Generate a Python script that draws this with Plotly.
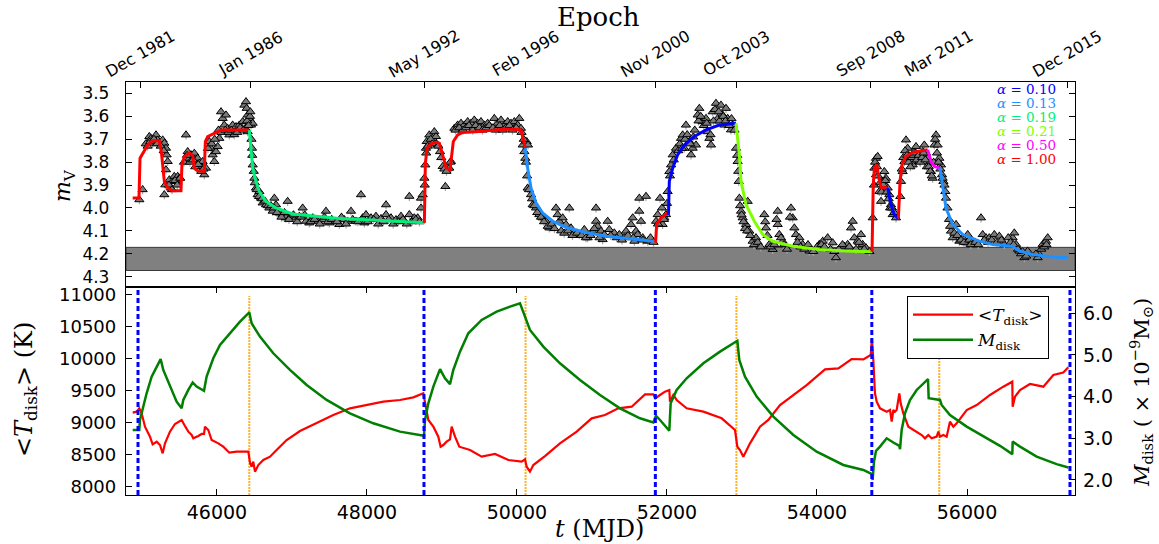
import plotly.graph_objects as go

# ------------------------------------------------------------------ data
epoch_mjd = [44985, 46450, 48770, 50117, 51851, 52925, 54718, 55621, 57345]
epoch_labels = ["Dec 1981", "Jan 1986", "May 1992", "Feb 1996", "Nov 2000",
                "Oct 2003", "Sep 2008", "Mar 2011", "Dec 2015"]

mag_ticks = [3.5, 3.6, 3.7, 3.8, 3.9, 4.0, 4.1, 4.2, 4.3]
mjd_ticks = [46000, 48000, 50000, 52000, 54000, 56000]
temp_ticks = [8000, 8500, 9000, 9500, 10000, 10500, 11000]
mass_ticks = [2.0, 3.0, 4.0, 5.0, 6.0]

band_mag = [4.172, 4.273]   # grey band in the upper panel

obs_mjd = [
    44965, 45009, 45098, 45120, 45143, 45187, 45209, 45231, 45276, 45298, 45320, 45329, 45343, 45320,
    45311, 45298, 45365, 45387, 45409, 45431, 45454, 45476, 45498, 45587, 45609, 45631, 45654, 45698,
    45720, 45742, 45765, 45787, 45809, 45831, 45854, 45898, 45920, 45942, 45965, 45987, 46009, 46031,
    46054, 46076, 46120, 46098, 46142, 46165, 46209, 46254, 46298, 46343, 46365, 46387, 46396, 46409,
    46431, 46378, 46409, 46454, 46476, 46467, 46476, 46498, 46520, 46542, 46565, 46587, 46609, 46654,
    46698, 46743, 46765, 46787, 46831, 46876, 46920, 46942, 46987, 47053, 47098, 47142, 47187, 47231,
    47276, 47342, 47409, 47453, 47498, 47564, 47631, 47698, 47742, 47787, 47853, 47920, 47942, 47965,
    47987, 48054, 48120, 48187, 48254, 48254, 48320, 48387, 48454, 48498, 48565, 48565, 48631, 48676,
    48720, 48720, 48743, 48765, 48778, 48787, 48796, 48831, 48898, 48876, 48920, 48942, 48974, 49009,
    49045, 49076, 49098, 49120, 49165, 49209, 49254, 49298, 49342, 49387, 49431, 49476, 49520, 49565,
    49609, 49654, 49698, 49742, 49787, 49831, 49876, 49920, 49965, 50009, 50031, 50053, 50076, 50098,
    50111, 50129, 50147, 50142, 50187, 50209, 50254, 50298, 50342, 50387, 50431, 50520, 50542, 50565,
    50609, 50653, 50698, 50720, 50765, 50831, 50898, 50942, 51009, 51054, 51054, 51076, 51120, 51142,
    51165, 51209, 51231, 51298, 51365, 51431, 51454, 51520, 51543, 51587, 51565, 51609, 51631, 51631,
    51654, 51720, 51676, 51743, 51854, 51876, 51907, 51934, 51942, 51965, 51987, 52009, 52031, 52054,
    52076, 52120, 52187, 52209, 52231, 52253, 52298, 52320, 52342, 52387, 52409, 52431, 52476, 52520,
    52542, 52565, 52587, 52609, 52653, 52676, 52720, 52742, 52765, 52787, 52809, 52853, 52876, 52920,
    52942, 52956, 52965, 52987, 53009, 53054, 53076, 53098, 53142, 53187, 53298, 53320, 53365, 53409,
    53476, 53476, 53498, 53542, 53653, 53676, 53698, 53720, 53765, 53809, 53853, 53898, 54031, 54076,
    54142, 54209, 54253, 54320, 54365, 54409, 54454, 54476, 54498, 54543, 54587, 54609, 54654, 54743,
    54765, 54787, 54809, 54787, 54831, 54854, 54876, 54898, 54920, 54943, 54965, 54987, 55009, 55054,
    55120, 55142, 55165, 55187, 55209, 55231, 55254, 55276, 55298, 55320, 55342, 55365, 55409, 55431,
    55454, 55476, 55498, 55520, 55542, 55565, 55587, 55609, 55631, 55654, 55667, 55685, 55711, 55720,
    55787, 55809, 55854, 55898, 55943, 55987, 56009, 56076, 56187, 56209, 56254, 56298, 56365, 56431,
    56498, 56609, 56631, 56654, 56698, 56765, 56809, 56942, 56965, 57009, 57053, 57076,
]
obs_mag = [
    3.964, 3.920, 3.688, 3.696, 3.717, 3.681, 3.703, 3.717, 3.703, 3.717, 3.739, 3.768, 3.797, 3.833,
    3.899, 3.942, 3.877, 3.913, 3.884, 3.862, 3.884, 3.862, 3.870, 3.681, 3.754, 3.783, 3.768, 3.761,
    3.797, 3.783, 3.804, 3.819, 3.797, 3.855, 3.826, 3.710, 3.739, 3.768, 3.797, 3.754, 3.732, 3.696,
    3.580, 3.609, 3.594, 3.638, 3.652, 3.681, 3.638, 3.645, 3.638, 3.623, 3.551, 3.536, 3.565, 3.594,
    3.609, 3.652, 3.667, 3.638, 3.630, 3.739, 3.812, 3.870, 3.913, 3.942, 3.928, 3.957, 3.978, 3.986,
    4.000, 4.014, 3.957, 3.986, 4.022, 4.029, 4.043, 3.971, 4.036, 4.043, 4.036, 4.000, 4.058, 4.065,
    4.043, 4.058, 4.051, 4.014, 4.065, 4.058, 4.072, 4.051, 4.058, 4.014, 4.058, 3.942, 4.043, 4.065,
    4.029, 4.043, 4.036, 4.046, 3.986, 4.029, 4.043, 4.051, 4.036, 4.058, 3.949, 4.029, 4.043, 4.043,
    4.000, 3.957, 3.942, 3.870, 3.812, 3.739, 3.710, 3.681, 3.667, 3.696, 3.688, 3.725, 3.754, 3.819,
    3.906, 3.826, 3.826, 3.797, 3.652, 3.638, 3.630, 3.638, 3.623, 3.630, 3.616, 3.630, 3.623, 3.638,
    3.630, 3.652, 3.609, 3.630, 3.616, 3.638, 3.623, 3.630, 3.623, 3.638, 3.609, 3.652, 3.725, 3.754,
    3.783, 3.710, 3.725, 3.913, 3.942, 3.986, 4.000, 4.029, 4.043, 4.058, 4.087, 4.000, 4.029, 4.058,
    4.043, 4.072, 4.000, 4.087, 4.109, 4.116, 4.094, 4.130, 4.101, 4.000, 4.058, 4.080, 4.101, 4.138,
    4.116, 4.058, 4.094, 4.109, 4.116, 4.130, 4.101, 4.072, 4.043, 4.101, 4.145, 4.116, 3.957, 4.014,
    4.058, 3.949, 4.130, 4.145, 4.058, 4.029, 3.957, 4.000, 4.072, 4.043, 4.029, 3.928, 3.841, 3.812,
    3.768, 3.739, 3.696, 3.681, 3.739, 3.638, 3.710, 3.768, 3.739, 3.725, 3.594, 3.565, 3.623, 3.609,
    3.667, 3.696, 3.725, 3.580, 3.543, 3.609, 3.551, 3.594, 3.638, 3.565, 3.609, 3.659, 3.638, 3.739,
    3.797, 3.884, 3.957, 4.014, 4.043, 4.072, 3.971, 4.101, 4.145, 4.130, 4.029, 4.087, 4.159, 4.181,
    4.014, 4.072, 4.116, 4.145, 4.000, 4.043, 4.087, 4.116, 4.130, 4.159, 4.174, 4.188, 4.159, 4.145,
    4.130, 4.152, 4.217, 4.174, 4.167, 4.159, 4.087, 4.058, 4.130, 4.145, 4.116, 4.159, 4.174, 4.043,
    3.826, 3.783, 3.775, 3.855, 3.928, 3.971, 3.884, 3.841, 3.870, 3.913, 3.942, 3.986, 4.029, 4.043,
    3.884, 3.841, 3.797, 3.703, 3.739, 3.775, 3.790, 3.812, 3.754, 3.732, 3.775, 3.797, 3.754, 3.725,
    3.761, 3.783, 3.804, 3.841, 3.870, 3.725, 3.681, 3.725, 3.783, 3.812, 3.855, 3.884, 3.928, 3.957,
    4.101, 4.130, 4.072, 4.145, 4.130, 4.152, 4.116, 4.145, 4.043, 4.116, 4.130, 4.130, 4.116, 4.123,
    4.159, 4.130, 4.109, 4.159, 4.188, 4.217, 4.188, 4.217, 4.203, 4.159, 4.145, 4.130,
]
# further observations read in the densely sampled stretches, as (MJD, mag)
obs_more = [
    (45050, 3.72), (45075, 3.73), (45110, 3.71), (45160, 3.70), (45200, 3.72), (45250, 3.73),
    (45290, 3.75), (45360, 3.90), (45400, 3.92), (45440, 3.88), (45470, 3.90), (45510, 3.87),
    (45560, 3.80), (45600, 3.77), (45640, 3.80), (45680, 3.79), (45710, 3.82), (45750, 3.81),
    (45790, 3.84), (45820, 3.83), (45880, 3.74), (45930, 3.72), (45970, 3.70), (46020, 3.66),
    (46060, 3.67), (46110, 3.66), (46150, 3.67), (46190, 3.66), (46230, 3.68), (46270, 3.67),
    (46310, 3.65), (46350, 3.66), (46400, 3.62), (46420, 3.64), (46440, 3.60), (46445, 3.58),
    (46460, 3.70), (46470, 3.77), (46490, 3.84), (46505, 3.89), (46530, 3.92), (46560, 3.95),
    (46600, 3.96), (46640, 3.97), (46680, 3.99), (46720, 3.99), (46760, 4.00), (46800, 4.02),
    (46860, 4.04), (46900, 4.02), (46960, 4.05), (47020, 4.03), (47070, 4.06), (47120, 4.04),
    (47170, 4.03), (47250, 4.06), (47300, 4.05), (47370, 4.07), (47430, 4.04), (47480, 4.06),
    (47530, 4.05), (47600, 4.06), (47660, 4.04), (47720, 4.07), (47810, 4.05), (47880, 4.06),
    (48010, 4.06), (48090, 4.05), (48150, 4.07), (48220, 4.06), (48290, 4.05), (48350, 4.07),
    (48420, 4.06), (48480, 4.05), (48530, 4.07), (48600, 4.06), (48650, 4.05), (48700, 4.06),
    (48770, 3.90), (48790, 3.76), (48810, 3.73), (48850, 3.70), (48870, 3.72), (48950, 3.73),
    (48990, 3.78), (49030, 3.83), (49060, 3.84), (49110, 3.80), (49180, 3.66), (49230, 3.65),
    (49280, 3.66), (49320, 3.65), (49360, 3.64), (49410, 3.66), (49450, 3.64), (49500, 3.65),
    (49540, 3.66), (49590, 3.65), (49630, 3.64), (49680, 3.65), (49720, 3.66), (49770, 3.64),
    (49810, 3.66), (49850, 3.65), (49900, 3.64), (49940, 3.66), (49990, 3.65), (50060, 3.67),
    (50090, 3.70), (50120, 3.80), (50135, 3.86), (50160, 3.92), (50200, 3.96), (50230, 3.99),
    (50270, 4.02), (50320, 4.04), (50360, 4.06), (50410, 4.08), (50460, 4.07), (50500, 4.09),
    (50590, 4.10), (50630, 4.11), (50680, 4.10), (50740, 4.12), (50800, 4.11), (50860, 4.12),
    (50920, 4.13), (50980, 4.12), (51030, 4.09), (51100, 4.13), (51250, 4.12), (51330, 4.13),
    (51400, 4.14), (51480, 4.12), (51550, 4.13), (51680, 4.14), (51780, 4.13), (51820, 4.15),
    (51880, 4.07), (51960, 4.05), (52000, 3.98), (52040, 3.86), (52090, 3.79), (52150, 3.75),
    (52170, 3.72), (52200, 3.74), (52240, 3.70), (52270, 3.68), (52310, 3.72), (52350, 3.69),
    (52370, 3.66), (52420, 3.62), (52450, 3.60), (52490, 3.64), (52530, 3.63), (52580, 3.68),
    (52620, 3.62), (52640, 3.57), (52690, 3.58), (52700, 3.62), (52750, 3.60), (52780, 3.62),
    (52830, 3.64), (52860, 3.61), (52900, 3.66), (52935, 3.77), (52950, 3.84), (52975, 3.99),
    (52995, 4.03), (53020, 4.06), (53040, 4.09), (53070, 4.10), (53110, 4.12), (53160, 4.16),
    (53210, 4.15), (53250, 4.17), (53310, 4.06), (53340, 4.12), (53380, 4.17), (53430, 4.16),
    (53460, 4.05), (53520, 4.13), (53560, 4.16), (53600, 4.18), (53640, 4.04), (53740, 4.15),
    (53780, 4.17), (53830, 4.18), (53880, 4.16), (53950, 4.19), (54000, 4.17), (54060, 4.16),
    (54100, 4.17), (54180, 4.18), (54230, 4.19), (54290, 4.18), (54340, 4.16), (54430, 4.17),
    (54520, 4.18), (54560, 4.15), (54630, 4.18), (54700, 4.19), (54760, 3.90), (54775, 3.80),
    (54800, 3.82), (54815, 3.86), (54840, 3.89), (54860, 3.93), (54885, 3.90), (54910, 3.88),
    (54930, 3.93), (54955, 3.96), (54975, 4.00), (55000, 4.00), (55030, 4.02), (55110, 3.95),
    (55130, 3.83), (55150, 3.78), (55175, 3.75), (55200, 3.77), (55220, 3.80), (55245, 3.82),
    (55265, 3.78), (55290, 3.77), (55310, 3.76), (55330, 3.79), (55355, 3.77), (55380, 3.80),
    (55400, 3.78), (55420, 3.76), (55445, 3.79), (55465, 3.82), (55490, 3.82), (55510, 3.84),
    (55530, 3.86), (55555, 3.80), (55575, 3.70), (55600, 3.76), (55620, 3.80), (55645, 3.83),
    (55675, 3.87), (55700, 3.90), (55740, 4.00), (55760, 4.05), (55775, 4.08), (55830, 4.11),
    (55870, 4.12), (55920, 4.14), (55960, 4.15), (56030, 4.14), (56050, 4.16), (56110, 4.15),
    (56150, 4.16), (56230, 4.14), (56280, 4.15), (56330, 4.14), (56400, 4.15), (56460, 4.14),
    (56550, 4.13), (56580, 4.15), (56620, 4.16), (56680, 4.18), (56720, 4.20), (56740, 4.19),
    (56790, 4.21), (56920, 4.20), (56990, 4.18), (57030, 4.17), (57060, 4.16),
]
obs_err = 0.02

# model light-curve segments (viscosity parameter alpha of each segment)
seg1_t = [44876, 44960, 44974, 45076, 45142, 45231, 45260, 45280, 45298, 45343, 45409, 45520,
          45533, 45565, 45631, 45676, 45698, 45742, 45831, 45845, 45876, 45965, 46054, 46431]
seg1_m = [3.956, 3.956, 3.783, 3.725, 3.707, 3.707, 3.760, 3.820, 3.884, 3.913, 3.925, 3.925,
          3.810, 3.775, 3.760, 3.770, 3.826, 3.838, 3.840, 3.710, 3.688, 3.674, 3.660, 3.660]
seg2_t = [46431, 46454, 46476, 46520, 46565, 46654, 46787, 47009, 47276, 47631, 47987, 48765]
seg2_m = [3.660, 3.739, 3.826, 3.884, 3.928, 3.971, 4.000, 4.026, 4.036, 4.046, 4.051, 4.065]
seg3_t = [48765, 48778, 48800, 48854, 48920, 48965, 49009, 49054, 49107, 49125, 49151, 49209,
          49276, 49454, 49720, 49854, 50054, 50111]
seg3_m = [4.065, 3.810, 3.739, 3.720, 3.713, 3.717, 3.768, 3.823, 3.833, 3.783, 3.710, 3.681,
          3.670, 3.667, 3.659, 3.655, 3.659, 3.739]
seg4_t = [50111, 50142, 50187, 50254, 50342, 50476, 50653, 50876, 51187, 51831]
seg4_m = [3.739, 3.826, 3.913, 3.978, 4.022, 4.058, 4.084, 4.104, 4.123, 4.145]
seg5_t = [51831, 51849, 51862, 51920, 52009]
seg5_m = [4.145, 4.145, 4.072, 4.043, 4.022]
seg6_t = [52009, 52020, 52031, 52076, 52142, 52231, 52365, 52520, 52698, 52920]
seg6_m = [4.022, 4.029, 3.884, 3.826, 3.768, 3.725, 3.688, 3.659, 3.638, 3.630]
seg7_t = [52920, 52965, 52987, 53054, 53165, 53276, 53409, 53676, 54031, 54387, 54734]
seg7_m = [3.630, 3.768, 3.884, 3.986, 4.058, 4.116, 4.145, 4.167, 4.181, 4.188, 4.191]
seg8_t = [54734, 54750, 54765, 54796, 54823, 54854, 54943]
seg8_m = [4.191, 3.900, 3.826, 3.810, 3.862, 3.910, 3.913]
seg9_t = [54943, 54987, 55031, 55085]
seg9_m = [3.913, 3.986, 4.029, 4.046]
seg10_t = [55085, 55107, 55134, 55187, 55276, 55365, 55476]
seg10_m = [4.046, 3.884, 3.810, 3.775, 3.757, 3.751, 3.746]
seg11_t = [55476, 55520, 55565, 55640]
seg11_m = [3.746, 3.797, 3.819, 3.826]
seg12_t = [55640, 55676, 55720, 55809, 55943, 56165, 56342, 56609, 56698, 56876, 57142, 57342]
seg12_m = [3.826, 3.913, 4.000, 4.072, 4.116, 4.145, 4.159, 4.167, 4.188, 4.203, 4.214, 4.217]
seg_alpha = [1.00, 0.19, 1.00, 0.13, 1.00, 0.10, 0.21, 1.00, 0.10, 1.00, 0.50, 0.13]

alpha_values = [0.10, 0.13, 0.19, 0.21, 0.50, 1.00]
alpha_colors = ["#0000ff", "#1e90ff", "#00f07a", "#7fff00", "#ff00ff", "#ff0000"]

# lower panel: mean disk temperature (K) and disk mass (1e-9 Msun)
tdisk_mjd = [
    44876, 44929, 44964, 44996, 45040, 45107, 45142, 45196, 45240, 45276, 45307, 45373, 45440, 45529,
    45573, 45618, 45662, 45684, 45751, 45796, 45827, 45840, 45884, 45929, 46018, 46084, 46164, 46262,
    46418, 46440, 46462, 46484, 46507, 46551, 46618, 46707, 46795, 46929, 47107, 47329, 47551, 47773,
    47996, 48218, 48440, 48618, 48751, 48787, 48818, 48885, 48951, 48982, 49018, 49062, 49107, 49129,
    49174, 49231, 49374, 49529, 49707, 49885, 50062, 50107, 50129, 50173, 50218, 50373, 50573, 50796,
    50996, 51173, 51351, 51529, 51707, 51818, 51844, 51907, 51973, 52031, 52040, 52084, 52129, 52262,
    52485, 52729, 52907, 52938, 52973, 53018, 53107, 53240, 53351, 53507, 53685, 53862, 54107, 54285,
    54462, 54618, 54716, 54733, 54751, 54773, 54796, 54840, 54884, 54929, 54974, 54996, 55018, 55040,
    55062, 55098, 55116, 55151, 55218, 55329, 55396, 55440, 55484, 55529, 55596, 55618, 55640, 55684,
    55729, 55773, 55818, 55862, 55929, 55996, 56129, 56307, 56484, 56604, 56609, 56640, 56707, 56840,
    57018, 57151, 57284, 57351,
]
tdisk_val = [
    9158, 9174, 9226, 9148, 8939, 8783, 8663, 8704, 8652, 8522, 8678, 8861, 8981, 9044,
    8950, 8861, 8809, 8757, 8793, 8825, 8825, 8939, 8887, 8731, 8678, 8626, 8532, 8548,
    8548, 8376, 8313, 8391, 8235, 8339, 8418, 8470, 8574, 8731, 8871, 8991, 9122, 9226,
    9278, 9330, 9357, 9398, 9461, 9252, 9044, 8939, 8783, 8626, 8652, 8704, 8741, 8939,
    8783, 8626, 8574, 8470, 8512, 8418, 8392, 8428, 8313, 8235, 8339, 8480, 8678, 8861,
    9070, 9122, 9226, 9252, 9445, 9445, 9383, 9435, 9487, 9513, 9330, 9435, 9357, 9226,
    9174, 9070, 8887, 8626, 8574, 8470, 8678, 8939, 9044, 9278, 9435, 9591, 9837, 9852,
    9998, 9993, 10061, 10322, 9983, 9461, 9330, 9226, 9200, 9174, 9200, 9018, 9200, 9174,
    9200, 9461, 9304, 9148, 8939, 8861, 8809, 8757, 8809, 8757, 8783, 8861, 8783, 8809,
    8783, 9018, 8939, 8991, 9096, 9200, 9278, 9435, 9565, 9643, 9252, 9409, 9513, 9607,
    9565, 9748, 9785, 9868,
]
mdisk_mjd = [
    44876, 44964, 44973, 45018, 45062, 45129, 45196, 45249, 45284, 45373, 45462, 45529, 45551, 45618,
    45676, 45729, 45827, 45862, 45951, 46040, 46173, 46307, 46431, 46462, 46573, 46751, 46973, 47196,
    47462, 47773, 48084, 48440, 48760, 48774, 48818, 48885, 48974, 49040, 49107, 49151, 49240, 49351,
    49529, 49729, 49907, 50040, 50107, 50173, 50351, 50573, 50840, 51107, 51373, 51640, 51818, 51853,
    51907, 52031, 52049, 52129, 52262, 52485, 52707, 52938, 52964, 53040, 53196, 53418, 53685, 53996,
    54351, 54618, 54733, 54742, 54760, 54787, 54840, 54929, 55018, 55098, 55107, 55129, 55173, 55240,
    55329, 55418, 55480, 55489, 55573, 55640, 55662, 55773, 55996, 56218, 56440, 56604, 56609, 56707,
    56929, 57195, 57351,
]
mdisk_val = [
    3.20, 3.20, 3.44, 3.76, 4.08, 4.48, 4.72, 4.90, 4.64, 4.24, 3.88, 3.72, 3.92, 4.16,
    4.34, 4.24, 4.14, 4.48, 4.92, 5.24, 5.52, 5.80, 6.02, 5.76, 5.44, 5.04, 4.64, 4.28,
    3.92, 3.60, 3.36, 3.16, 3.06, 3.44, 3.84, 4.24, 4.66, 4.44, 4.30, 4.64, 5.08, 5.52,
    5.84, 6.04, 6.16, 6.24, 5.92, 5.60, 5.20, 4.80, 4.40, 4.04, 3.72, 3.48, 3.38, 3.54,
    3.44, 3.18, 3.84, 4.16, 4.44, 4.80, 5.08, 5.34, 4.88, 4.48, 4.00, 3.52, 3.08, 2.68,
    2.36, 2.24, 2.14, 2.00, 2.44, 2.70, 2.80, 3.00, 2.90, 2.82, 2.74, 3.20, 3.60, 3.92,
    4.16, 4.32, 4.42, 3.96, 3.94, 3.92, 3.80, 3.56, 3.28, 3.04, 2.82, 2.62, 2.92, 2.80,
    2.56, 2.38, 2.30,
]

outburst_start_mjd = [44947, 48760, 51845, 54731, 57373]   # blue dashed
outburst_peak_mjd = [46431, 50114, 52925, 55630]           # orange dotted

# ------------------------------------------------------------------ geometry
L, R, T, B = 126, 84, 82, 49
W, H = 1159, 544
PH = H - T - B
split = (495 - 287) / PH
X_RANGE = [44787, 57440]


def px(X):
    return (X - L) / (W - L - R)


def py(Y):
    return (H - B - Y) / PH


SERIF = "DejaVu Serif"
SANS = "DejaVu Sans"

all_obs_t = obs_mjd + [p[0] for p in obs_more]
all_obs_m = obs_mag + [p[1] for p in obs_more]

fig = go.Figure()

# observations
fig.add_trace(go.Scatter(
    x=all_obs_t, y=all_obs_m, mode="markers", xaxis="x", yaxis="y", showlegend=False,
    marker=dict(symbol="triangle-up", size=8, color="#7a7a7a",
                line=dict(color="black", width=1)),
    error_y=dict(type="constant", value=obs_err, color="#a8a8a8", thickness=1.2, width=0),
))

segs = [(seg1_t, seg1_m), (seg2_t, seg2_m), (seg3_t, seg3_m), (seg4_t, seg4_m),
        (seg5_t, seg5_m), (seg6_t, seg6_m), (seg7_t, seg7_m), (seg8_t, seg8_m),
        (seg9_t, seg9_m), (seg10_t, seg10_m), (seg11_t, seg11_m), (seg12_t, seg12_m)]
for (st, sm), a in zip(segs, seg_alpha):
    col = alpha_colors[alpha_values.index(a)]
    fig.add_trace(go.Scatter(x=st, y=sm, mode="lines", xaxis="x", yaxis="y",
                             showlegend=False, line=dict(color=col, width=3)))

# lower panel
fig.add_trace(go.Scatter(x=tdisk_mjd, y=tdisk_val, mode="lines", xaxis="x2", yaxis="y2",
                         name="&lt;<i>T</i><sub>disk</sub>&gt;",
                         line=dict(color="#ff0000", width=2.2)))
fig.add_trace(go.Scatter(x=mdisk_mjd, y=mdisk_val, mode="lines", xaxis="x2", yaxis="y3",
                         name="<i>M</i><sub>disk</sub>",
                         line=dict(color="#007f00", width=2.5)))

shapes = [dict(type="rect", xref="x domain", x0=0, x1=1, yref="y",
               y0=band_mag[0], y1=band_mag[1], fillcolor="#808080",
               line=dict(color="#3a3a3a", width=1), layer="below")]
for m in outburst_start_mjd:
    shapes.append(dict(type="line", xref="x2", x0=m, x1=m, yref="y2 domain", y0=0, y1=1,
                       line=dict(color="#0000ff", width=3, dash="5px,3px"), layer="above"))
for m in outburst_peak_mjd:
    shapes.append(dict(type="line", xref="x2", x0=m, x1=m, yref="y2 domain", y0=0, y1=0.957,
                       line=dict(color="rgba(255,165,0,0.85)", width=2, dash="2px,1px"),
                       layer="below"))

ann = []
for m, lab in zip(epoch_mjd, epoch_labels):
    ann.append(dict(x=m, xref="x", y=py(54), yref="paper", text=lab, showarrow=False,
                    textangle=-30, font=dict(family=SANS, size=16, color="black"),
                    xanchor="center", yanchor="middle"))
alpha_y = [89, 103, 117, 131, 145, 159]
for a, c, yy in zip(alpha_values, alpha_colors, alpha_y):
    ann.append(dict(x=px(1058), xref="paper", y=py(yy), yref="paper",
                    text="<i>α</i> = %.2f" % a, showarrow=False, xanchor="right",
                    yanchor="middle", font=dict(family=SERIF, size=13.5, color=c)))
ann += [
    dict(x=px(598), y=py(17), xref="paper", yref="paper", text="Epoch", showarrow=False,
         font=dict(family=SERIF, size=26, color="black"), xanchor="center", yanchor="middle"),
    dict(x=px(599), y=py(529), xref="paper", yref="paper", text="<i>t</i> (MJD)",
         showarrow=False, font=dict(family=SERIF, size=24, color="black"),
         xanchor="center", yanchor="middle"),
    dict(x=px(64), y=py(186), xref="paper", yref="paper", text="<i>m</i><sub>V</sub>",
         showarrow=False, textangle=-90, font=dict(family=SERIF, size=22, color="black"),
         xanchor="center", yanchor="middle"),
    dict(x=px(25), y=py(390), xref="paper", yref="paper",
         text="&lt;<i>T</i><sub>disk</sub>&gt; (K)", showarrow=False, textangle=-90,
         font=dict(family=SERIF, size=24, color="black"), xanchor="center", yanchor="middle"),
    dict(x=px(1141), y=py(393), xref="paper", yref="paper",
         text="<i>M</i><sub>disk</sub> ( × 10<sup>−9</sup>M<sub>⊙</sub>)", showarrow=False,
         textangle=-90, font=dict(family=SERIF, size=21, color="black"),
         xanchor="center", yanchor="middle"),
]

axis_common = dict(showline=True, linecolor="black", linewidth=1.3, showgrid=False,
                   zeroline=False, ticks="inside", tickcolor="black", tickwidth=1.3)

fig.update_layout(
    width=W, height=H, autosize=False,
    margin=dict(l=L, r=R, t=T, b=B, pad=0),
    paper_bgcolor="white", plot_bgcolor="white",
    shapes=shapes, annotations=ann,
    xaxis=dict(axis_common, domain=[0, 1], anchor="y", side="top", range=X_RANGE,
               tickmode="array", tickvals=epoch_mjd, ticktext=epoch_labels,
               showticklabels=False, ticklen=6, mirror=True),
    yaxis=dict(axis_common, domain=[split, 1], anchor="x", range=[4.345, 3.45],
               tickmode="array", tickvals=mag_ticks, ticktext=["%.1f" % v for v in mag_ticks],
               ticklen=6, mirror="ticks", ticklabelstandoff=12,
               tickfont=dict(family=SANS, size=17, color="black")),
    xaxis2=dict(axis_common, domain=[0, 1], anchor="y2", range=X_RANGE, matches="x",
                tickmode="array", tickvals=mjd_ticks, ticktext=[str(v) for v in mjd_ticks],
                ticklen=6, mirror="ticks", ticklabelstandoff=0,
                tickfont=dict(family=SANS, size=19, color="black")),
    yaxis2=dict(axis_common, domain=[0, split], anchor="x2", range=[7870, 11125],
                tickmode="array", tickvals=temp_ticks, ticktext=[str(v) for v in temp_ticks],
                ticklen=6, mirror=True, ticklabelstandoff=5,
                tickfont=dict(family=SANS, size=18, color="black")),
    yaxis3=dict(axis_common, overlaying="y2", side="right", anchor="x2", range=[1.64, 6.63],
                tickmode="array", tickvals=mass_ticks, ticktext=["%.1f" % v for v in mass_ticks],
                ticklen=6, ticklabelstandoff=3,
                tickfont=dict(family=SANS, size=19, color="black")),
    showlegend=True,
    legend=dict(x=px(907), y=py(296), xanchor="left", yanchor="top",
                bgcolor="white", bordercolor="black", borderwidth=1,
                font=dict(family=SERIF, size=17, color="black"),
                itemwidth=60, tracegroupgap=0, entrywidth=150, entrywidthmode="pixels"),
)

fig.write_html("out.html", config={"displayModeBar": False},
               post_script="document.body.style.margin='0px';")
